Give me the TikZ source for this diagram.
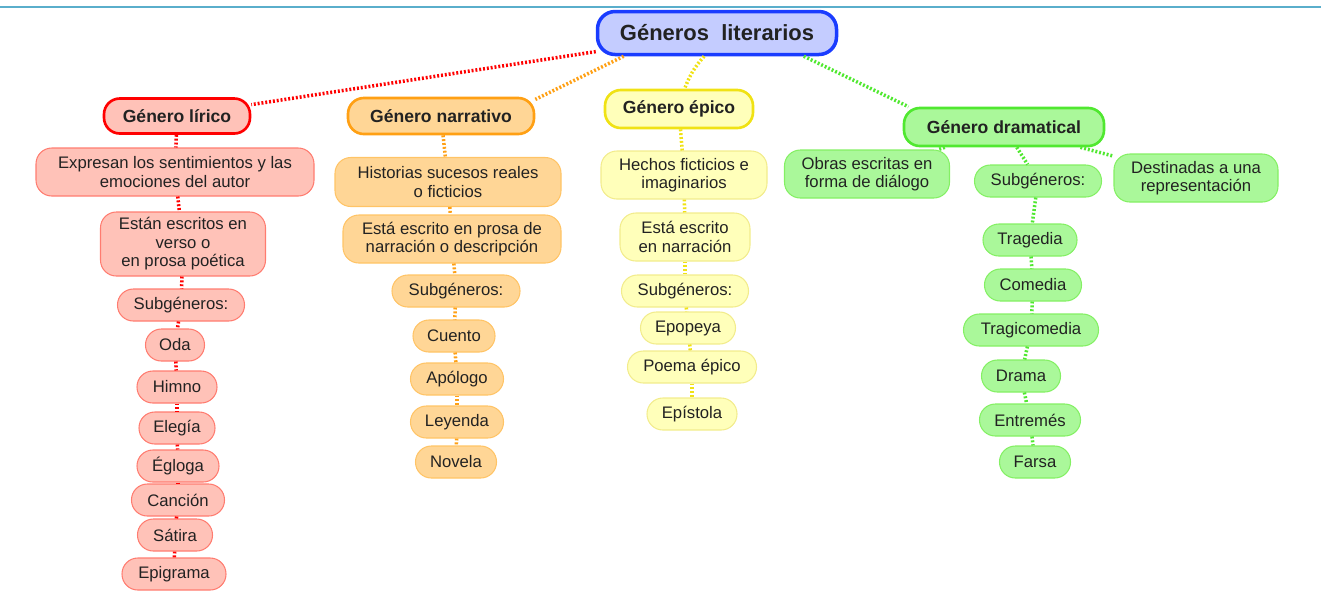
\documentclass[tikz,border=0pt]{standalone}
\usepackage{fontspec}
\setmainfont{Liberation Sans}
\usetikzlibrary{shapes.misc}

\definecolor{texto}{HTML}{222222}
\definecolor{azulB}{HTML}{1A3CFF}
\definecolor{azulF}{HTML}{C4CCFF}
\definecolor{rojoB}{HTML}{FF0000}
\definecolor{rojoH}{HTML}{FF7C70}
\definecolor{rojoF}{HTML}{FFC2B8}
\definecolor{naranjaB}{HTML}{FFA014}
\definecolor{naranjaH}{HTML}{FFC466}
\definecolor{naranjaF}{HTML}{FFD696}
\definecolor{amarilloB}{HTML}{F0E214}
\definecolor{amarilloH}{HTML}{F2EC8C}
\definecolor{amarilloF}{HTML}{FFFFBA}
\definecolor{verdeB}{HTML}{50E830}
\definecolor{verdeH}{HTML}{84F064}
\definecolor{verdeF}{HTML}{AAF89A}
\definecolor{linea}{HTML}{5AAECB}

\tikzset{
    caja/.style={rounded corners=9pt, align=center, inner sep=2pt, minimum height=0.64cm,
        text=texto, line width=0.6pt, font=\fontsize{9.5}{10.5}\selectfont}, % every box
    w/.style={minimum width=#1*0.02cm}, % width, in pixels of the original
    h/.style={minimum height=#1*0.02cm}, % height, in pixels of the original
    titulo/.style={caja, line width=1.5pt, font=\bfseries\fontsize{10}{12}\selectfont},
    raiz/.style={titulo, rounded corners=10pt, draw=azulB, fill=azulF, line width=2pt,
        font=\bfseries\fontsize{12.5}{14}\selectfont},
    liricaT/.style={titulo, draw=rojoB, fill=rojoF},
    lirica/.style={caja, draw=rojoH, fill=rojoF},
    narrT/.style={titulo, draw=naranjaB, fill=naranjaF},
    narr/.style={caja, draw=naranjaH, fill=naranjaF},
    epicaT/.style={titulo, draw=amarilloB, fill=amarilloF},
    epica/.style={caja, draw=amarilloH, fill=amarilloF},
    dramaT/.style={titulo, draw=verdeB, fill=verdeF},
    drama/.style={caja, draw=verdeH, fill=verdeF},
    enlace/.style={line width=2pt, dash pattern=on 1.1pt off 1.1pt}, % dotted connectors
}

\begin{document}
\begin{tikzpicture}[x=0.02cm, y=-0.02cm]
    \useasboundingbox (0,0) rectangle (1321,600);

    \coordinate (izq) at (0,7);
    \coordinate (der) at (1321,7);
    \draw[linea, line width=0.8pt] (izq) -- (der);

    \node[raiz, w=239, h=43] (raiz) at (717,33) {Géneros\ \ literarios};

    % lirico
    \node[liricaT, w=146, h=35] (lirico) at (177,116) {Género lírico};
    \node[lirica, w=278, h=48] (lir1) at (175,172) {Expresan los sentimientos y las\\emociones del autor};
    \node[lirica, w=165, h=64] (lir2) at (183,244) {Están escritos en\\verso o\\en prosa poética};
    \node[lirica, w=127] (lirsub) at (181,305) {Subgéneros:};
    \node[lirica, w=59] (oda) at (175,345) {Oda};
    \node[lirica, w=80] (himno) at (177,387) {Himno};
    \node[lirica, w=76] (elegia) at (177,428) {Elegía};
    \node[lirica, w=82] (egloga) at (178,466) {Égloga};
    \node[lirica, w=93] (cancion) at (178,500) {Canción};
    \node[lirica, w=75] (satira) at (175,535) {Sátira};
    \node[lirica, w=104] (epigrama) at (174,574) {Epigrama};

    % narrativo
    \node[narrT, w=186, h=36] (narrativo) at (441,116) {Género narrativo};
    \node[narr, w=226, h=49] (nar1) at (448,182) {Historias sucesos reales\\o ficticios};
    \node[narr, w=218, h=48] (nar2) at (452,239) {Está escrito en prosa de\\narración o descripción};
    \node[narr, w=128] (narsub) at (456,291) {Subgéneros:};
    \node[narr, w=82] (cuento) at (454,336) {Cuento};
    \node[narr, w=93] (apologo) at (457,379) {Apólogo};
    \node[narr, w=93] (leyenda) at (457,422) {Leyenda};
    \node[narr, w=81] (novela) at (456,462) {Novela};

    % epico
    \node[epicaT, w=148, h=38] (epico) at (679,109) {Género épico};
    \node[epica, w=166, h=48] (epi1) at (684,175) {Hechos ficticios e\\imaginarios};
    \node[epica, w=130, h=48] (epi2) at (685,237) {Está escrito\\en narración};
    \node[epica, w=127] (episub) at (685,291) {Subgéneros:};
    \node[epica, w=95] (epopeya) at (688,328) {Epopeya};
    \node[epica, w=129] (poema) at (692,367) {Poema épico};
    \node[epica, w=90] (epistola) at (692,414) {Epístola};

    % dramatico
    \node[dramaT, w=200, h=38] (dramatico) at (1004,127) {Género dramatical};
    \node[drama, w=165, h=48] (dra1) at (867,174) {Obras escritas en\\forma de diálogo};
    \node[drama, w=127] (drasub) at (1038,181) {Subgéneros:};
    \node[drama, w=164, h=48] (dra2) at (1196,178) {Destinadas a una\\representación};
    \node[drama, w=94] (tragedia) at (1030,240) {Tragedia};
    \node[drama, w=97] (comedia) at (1033,285) {Comedia};
    \node[drama, w=135] (tragicomedia) at (1031,330) {Tragicomedia};
    \node[drama, w=79] (dramaN) at (1021,376) {Drama};
    \node[drama, w=101] (entremes) at (1030,420) {Entremés};
    \node[drama, w=71] (farsa) at (1035,462) {Farsa};

    \path[enlace, red]
        (raiz) edge (lirico)
        (lirico) edge (lir1)
        (lir1) edge (lir2)
        (lir2) edge (lirsub)
        (lirsub) edge (oda)
        (oda) edge (himno)
        (himno) edge (elegia)
        (elegia) edge (egloga)
        (egloga) edge (cancion)
        (cancion) edge (satira)
        (satira) edge (epigrama);
    \path[enlace, naranjaB]
        (raiz.194) edge (narrativo.10)
        (narrativo) edge (nar1)
        (nar1) edge (nar2)
        (nar2) edge (narsub)
        (narsub) edge (cuento)
        (cuento) edge (apologo)
        (apologo) edge (leyenda)
        (leyenda) edge (novela);
    \path[enlace, amarilloB]
        (raiz.241) edge[bend right=10] (epico)
        (epico) edge (epi1)
        (epi1) edge (epi2)
        (epi2) edge (episub)
        (episub) edge (epopeya)
        (epopeya) edge (poema)
        (poema) edge (epistola);
    \path[enlace, verdeB]
        (raiz.345) edge (dramatico.168)
        (dramatico) edge (dra1)
        (dramatico) edge (drasub)
        (dramatico) edge (dra2)
        (drasub) edge (tragedia)
        (tragedia) edge (comedia)
        (comedia) edge (tragicomedia)
        (tragicomedia) edge (dramaN)
        (dramaN) edge (entremes)
        (entremes) edge (farsa);
\end{tikzpicture}
\end{document}
